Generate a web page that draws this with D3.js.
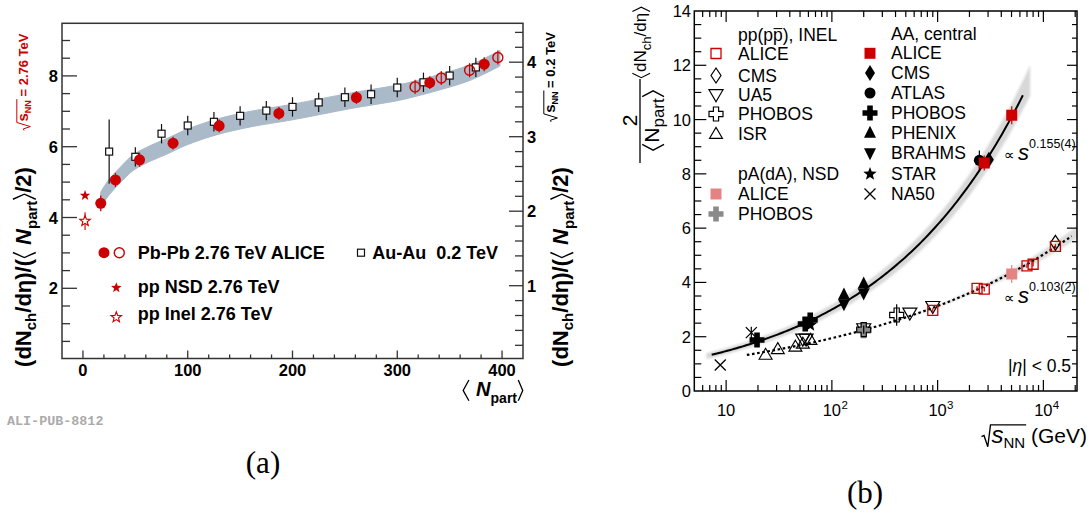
<!DOCTYPE html>
<html>
<head>
<meta charset="utf-8">
<script src="https://cdn.jsdelivr.net/npm/d3@7"></script>
<style>
  body { margin: 0; background: #fff; }
  svg { display: block; }
</style>
</head>
<body>
<svg id="fig" width="1091" height="515"></svg>
<script>
// ---------------- panel (a): dNch/deta per participant pair vs Npart ----------------
const pbNpart     = [17, 31, 54, 86, 130, 187, 261, 331, 383];
const pbVal       = [4.40, 5.06, 5.63, 6.10, 6.59, 6.94, 7.39, 7.81, 8.33];
const pbErr       = [0.22, 0.20, 0.20, 0.18, 0.18, 0.18, 0.18, 0.18, 0.20];
const pbOpenNpart = [317, 342, 369, 396];
const pbOpenVal   = [7.69, 7.94, 8.16, 8.52];
const pbOpenErr   = [0.20, 0.20, 0.20, 0.20];
const auNpart = [25, 50, 75, 100, 125, 150, 175, 200, 225, 250, 275, 300, 325, 350, 375];
const auVal   = [2.80, 2.73, 3.04, 3.15, 3.20, 3.28, 3.35, 3.40, 3.46, 3.53, 3.57, 3.66, 3.73, 3.82, 3.93];
const auErr   = [0.43, 0.13, 0.13, 0.13, 0.13, 0.13, 0.13, 0.13, 0.13, 0.13, 0.13, 0.13, 0.13, 0.13, 0.13];
const ppNpart   = [2];
const ppNsdVal  = [4.62];
const ppInelVal = [3.90];
const ppInelErr = [0.25];
// systematic band around the Pb-Pb points
const bandNpart = [17, 25, 35, 48, 65, 80, 100, 128, 160, 200, 256, 300, 316, 340, 370, 398];
const bandMid   = [4.50, 4.86, 5.18, 5.55, 5.82, 6.01, 6.28, 6.56, 6.78, 6.98, 7.30, 7.52, 7.63, 7.82, 8.10, 8.50];
const bandHalf  = 0.22;
const aLeftTicks  = [2, 4, 6, 8];
const aRightTicks = [1, 2, 3, 4];
const aXTicks     = [0, 100, 200, 300, 400];

// ---------------- panel (b): energy dependence ----------------
// pp(pbar p) INEL
const alicePPs = [900, 2360, 2760, 7000, 8000, 13000];
const alicePPy = [2.97, 3.78, 3.75, 4.61, 4.67, 5.33];
const cmsPPs = [13000];
const cmsPPy = [5.46];
const ua5PPs = [53, 57, 200, 546, 900];
const ua5PPy = [1.92, 1.92, 2.30, 2.88, 3.12];
const phobosPPs = [200, 410];
const phobosPPy = [2.26, 2.80];
const phobosPPe = [0.15, 0.40];
const isrPPs = [23.6, 30.8, 45.2, 53.2, 62.7];
const isrPPy = [1.33, 1.54, 1.63, 1.74, 1.88];
// pA(dA) NSD
const alicePAs = [5020];
const alicePAy = [4.31];
const alicePAe = [0.33];
const phobosDAs = [200];
const phobosDAy = [2.22];
const phobosDAe = [0.20];
// AA central
const aliceAAs = [2760, 5020];
const aliceAAy = [8.40, 10.16];
const aliceAAe = [0.28, 0.33];
const cmsAAs = [3050];
const cmsAAy = [8.52];
const atlasAAs = [2480];
const atlasAAy = [8.50];
const atlasAAe = [0.36];
const phobosAAs = [19.6, 56, 62.4];
const phobosAAy = [1.88, 2.47, 2.62];
const phenixAAs = [130, 200];
const phenixAAy = [3.55, 3.95];
const brahmsAAs = [130, 200];
const brahmsAAy = [3.20, 3.60];
const starAAs = [62.4];
const starAAy = [2.43];
const na50AAs = [8.8, 17.3];
const na50AAy = [0.96, 2.15];
const na50AAe = [0, 0.22];
// power-law fits in s (x axis is sqrt(s)), normalisation and drawn range
const fitAA = { exp: 0.155, norm: 0.720, from: 7.3, to: 6400, bandTo: 7500 };
const fitPP = { exp: 0.103, norm: 0.754, from: 15.7, to: 18500 };
const bYTicks = [0, 2, 4, 6, 8, 10, 12, 14];
const bXTicks = [10, 100, 1000, 10000];
const bXExp   = ['', '2', '3', '4'];

const legendLeftHead  = ['pp(p', 'p', '), INEL'];
const legendLeft      = ['ALICE', 'CMS', 'UA5', 'PHOBOS', 'ISR'];
const legendPAHead    = 'pA(dA), NSD';
const legendPA        = ['ALICE', 'PHOBOS'];
const legendRightHead = 'AA, central';
const legendRight     = ['ALICE', 'CMS', 'ATLAS', 'PHOBOS', 'PHENIX', 'BRAHMS', 'STAR', 'NA50'];

// ---------------------------------------------------------------------
const SANS = "'Liberation Sans', Arial, Helvetica, sans-serif";
const RED = '#cc0000', PINK = '#e58282', GRAY = '#8a8a8a', BAND = '#abbac8';
const svg = d3.select('#fig');

// text built from runs, with optional sub/superscripts, angle brackets, radicals, overlines
function rich(parent, x, y, runs, opt = {}) {
  const g = parent.append('g')
    .attr('transform', `translate(${x},${y})` + (opt.rotate ? ` rotate(${opt.rotate})` : ''));
  const base = { fs: opt.fs || 16, fw: opt.fw || 'normal', fill: opt.fill || '#000', ff: opt.ff || SANS };
  const items = [];
  runs.forEach(r => {
    const fs = r.fs || base.fs;
    if (r.br)  { items.push({ r, fs, w: r.w || fs * 0.36, kind: 'br' }); return; }
    if (r.rad) { items.push({ r, fs, w: r.w || fs * 0.55, kind: 'rad' }); return; }
    const el = g.append('text')
      .attr('y', r.dy || 0).attr('font-size', fs)
      .attr('font-weight', r.fw || base.fw).attr('font-style', r.fi ? 'italic' : 'normal')
      .attr('font-family', r.ff || base.ff).attr('fill', r.fill || base.fill)
      .style('white-space', 'pre').text(r.t);
    items.push({ r, fs, el, w: el.node().getComputedTextLength(), kind: 'text' });
  });
  const total = items.reduce((s, d) => s + d.w + (d.r.dx || 0), 0);
  let cx = opt.anchor === 'middle' ? -total / 2 : opt.anchor === 'end' ? -total : 0;
  items.forEach(d => {
    cx += d.r.dx || 0; d.x0 = cx;
    if (d.kind === 'text') d.el.attr('x', cx);
    cx += d.w;
  });
  const col = opt.fill || '#000';
  items.forEach((d, i) => {
    const fs = d.fs, sw = d.r.sw || Math.max(1, fs * 0.065), dy = d.r.dy || 0;
    if (d.kind === 'br') {
      const top = -fs * 0.80 + dy, bot = fs * 0.24 + dy, mid = (top + bot) / 2;
      const a = d.x0 + d.w * 0.18, b = d.x0 + d.w * 0.82;
      const p = d.r.br === '<' ? `M${b},${top}L${a},${mid}L${b},${bot}` : `M${a},${top}L${b},${mid}L${a},${bot}`;
      g.append('path').attr('d', p).attr('fill', 'none').attr('stroke', col).attr('stroke-width', sw);
    }
    if (d.kind === 'rad') {
      const last = items[i + d.r.n];
      const end = last.x0 + last.w + 1;
      const top = -fs * (d.r.top || 0.86), x0 = d.x0;
      const p = `M${x0},${-fs * 0.30}L${x0 + fs * 0.12},${-fs * 0.36}L${x0 + fs * 0.30},${fs * 0.18}L${x0 + d.w - 1},${top}L${end},${top}`;
      g.append('path').attr('d', p).attr('fill', 'none').attr('stroke', col).attr('stroke-width', sw);
    }
    if (d.kind === 'text' && d.r.over) {
      const yy = -fs * 0.68 + dy;
      g.append('line').attr('x1', d.x0 + 0.5).attr('x2', d.x0 + d.w - 0.5).attr('y1', yy).attr('y2', yy)
        .attr('stroke', col).attr('stroke-width', Math.max(1, fs * 0.06));
    }
  });
  return g;
}

// ---------------- draw panel (a) ----------------
const A = { l: 62, r: 523, t: 23.3, b: 358.5 };
const xA  = d3.scaleLinear([-20, 420], [A.l, A.r]);
const yA  = d3.scaleLinear([0.017, 9.486], [A.b, A.t]);   // sqrt(sNN) = 2.76 TeV
const yA2 = d3.scaleLinear([0.023, 4.522], [A.b, A.t]);   // sqrt(sNN) = 0.2 TeV
const ga = svg.append('g');

// band
const bandData = bandNpart.map((n, i) => ({ n, m: bandMid[i] }));
ga.append('path').datum(bandData)
  .attr('d', d3.area().curve(d3.curveCatmullRom)
    .x(d => xA(d.n)).y0(d => yA(d.m - bandHalf)).y1(d => yA(d.m + bandHalf)))
  .attr('fill', BAND).attr('stroke', BAND).attr('stroke-width', 1).attr('stroke-linejoin', 'round');

// Au-Au 0.2 TeV (right scale)
auNpart.forEach((n, i) => {
  ga.append('line').attr('x1', xA(n)).attr('x2', xA(n))
    .attr('y1', yA2(auVal[i] - auErr[i])).attr('y2', yA2(auVal[i] + auErr[i]))
    .attr('stroke', '#111').attr('stroke-width', 1.2);
  ga.append('rect').attr('x', xA(n) - 3.5).attr('y', yA2(auVal[i]) - 3.5).attr('width', 7).attr('height', 7)
    .attr('fill', '#fff').attr('stroke', '#111').attr('stroke-width', 1.2);
});

// Pb-Pb filled
pbNpart.forEach((n, i) => {
  ga.append('line').attr('x1', xA(n)).attr('x2', xA(n))
    .attr('y1', yA(pbVal[i] - pbErr[i])).attr('y2', yA(pbVal[i] + pbErr[i]))
    .attr('stroke', RED).attr('stroke-width', 1.3);
  ga.append('circle').attr('cx', xA(n)).attr('cy', yA(pbVal[i])).attr('r', 5.5).attr('fill', RED);
});
// Pb-Pb open
pbOpenNpart.forEach((n, i) => {
  ga.append('line').attr('x1', xA(n)).attr('x2', xA(n))
    .attr('y1', yA(pbOpenVal[i] - pbOpenErr[i])).attr('y2', yA(pbOpenVal[i] + pbOpenErr[i]))
    .attr('stroke', RED).attr('stroke-width', 1.2);
  ga.append('circle').attr('cx', xA(n)).attr('cy', yA(pbOpenVal[i])).attr('r', 5)
    .attr('fill', 'none').attr('stroke', RED).attr('stroke-width', 1.4);
});

function starPath(R) {
  const pts = [];
  for (let k = 0; k < 10; k++) {
    const rr = k % 2 ? R * 0.42 : R, ang = -Math.PI / 2 + k * Math.PI / 5;
    pts.push([rr * Math.cos(ang), rr * Math.sin(ang)]);
  }
  return 'M' + pts.map(p => p.join(',')).join('L') + 'Z';
}
// pp stars
ppNpart.forEach((n, i) => {
  ga.append('path').attr('d', starPath(5.5)).attr('transform', `translate(${xA(n)},${yA(ppNsdVal[i])})`).attr('fill', RED);
  ga.append('line').attr('x1', xA(n)).attr('x2', xA(n))
    .attr('y1', yA(ppInelVal[i] + ppInelErr[i])).attr('y2', yA(ppInelVal[i] - ppInelErr[i]))
    .attr('stroke', RED).attr('stroke-width', 1.1);
  ga.append('path').attr('d', starPath(5.5)).attr('transform', `translate(${xA(n)},${yA(ppInelVal[i])})`)
    .attr('fill', '#fff').attr('stroke', RED).attr('stroke-width', 1.1);
});

// frame and ticks
ga.append('rect').attr('x', A.l).attr('y', A.t).attr('width', A.r - A.l).attr('height', A.b - A.t)
  .attr('fill', 'none').attr('stroke', '#333').attr('stroke-width', 1.5);
for (let v = 0.5; v <= 9.01; v += 0.5) {
  const maj = Math.abs(v % 2) < 1e-6;
  ga.append('line').attr('x1', A.l).attr('x2', A.l + (maj ? 15 : 8)).attr('y1', yA(v)).attr('y2', yA(v))
    .attr('stroke', '#333').attr('stroke-width', 1.3);
}
for (let v = 0.2; v <= 4.41; v += 0.2) {
  const maj = Math.abs(v - Math.round(v)) < 1e-6;
  ga.append('line').attr('x1', A.r).attr('x2', A.r - (maj ? 14 : 8)).attr('y1', yA2(v)).attr('y2', yA2(v))
    .attr('stroke', '#333').attr('stroke-width', 1.3);
}
for (let v = 0; v <= 400; v += 20) {
  const maj = v % 100 === 0;
  ga.append('line').attr('x1', xA(v)).attr('x2', xA(v)).attr('y1', A.b).attr('y2', A.b - (maj ? 8 : 4))
    .attr('stroke', '#333').attr('stroke-width', 1.3);
}
aLeftTicks.forEach(v => ga.append('text').attr('x', 58).attr('y', yA(v) + 6).attr('text-anchor', 'end')
  .attr('font-family', SANS).attr('font-weight', 'bold').attr('font-size', 16.5).text(v));
aRightTicks.forEach(v => ga.append('text').attr('x', 527).attr('y', yA2(v) + 6).attr('text-anchor', 'start')
  .attr('font-family', SANS).attr('font-weight', 'bold').attr('font-size', 16.5).text(v));
aXTicks.forEach(v => ga.append('text').attr('x', xA(v)).attr('y', 376).attr('text-anchor', 'middle')
  .attr('font-family', SANS).attr('font-weight', 'bold').attr('font-size', 16.5).text(v));

// axis titles (a)
const yTitleRuns = [
  { t: '(dN' }, { t: 'ch', fs: 15, dy: 5 }, { t: '/d' }, { t: 'η' }, { t: ')/(' },
  { br: '<' }, { t: ' ' }, { t: 'N', fi: true }, { t: 'part', fs: 15, dy: 6 }, { br: '>' }, { t: '/2)' }
];
rich(ga, 30.5, 267, yTitleRuns, { rotate: -90, anchor: 'middle', fs: 22, fw: 'bold' });
rich(ga, 568, 267, yTitleRuns, { rotate: -90, anchor: 'middle', fs: 22, fw: 'bold' });
rich(ga, 28, 82, [{ rad: true, n: 2, w: 9 }, { t: 's', fs: 15 }, { t: 'NN', fs: 9, dy: 3 }, { t: ' = 2.76 TeV' }],
  { rotate: -90, anchor: 'middle', fs: 13, fw: 'bold', fill: RED });
rich(ga, 555, 77, [{ rad: true, n: 2, w: 9 }, { t: 's', fs: 15 }, { t: 'NN', fs: 9, dy: 3 }, { t: ' = 0.2 TeV' }],
  { rotate: -90, anchor: 'middle', fs: 13, fw: 'bold', fill: '#000' });
rich(ga, 524, 396, [{ br: '<', w: 9 }, { t: ' ' }, { t: 'N', fi: true }, { t: 'part', fs: 14, dy: 7 }, { br: '>', w: 7 }],
  { anchor: 'end', fs: 20, fw: 'bold' });

// legend (a)
ga.append('circle').attr('cx', 104).attr('cy', 252.7).attr('r', 5.5).attr('fill', RED);
ga.append('circle').attr('cx', 119.3).attr('cy', 252.7).attr('r', 5).attr('fill', 'none').attr('stroke', RED).attr('stroke-width', 1.4);
ga.append('path').attr('d', starPath(5.5)).attr('transform', 'translate(116.3,287.7)').attr('fill', RED);
ga.append('path').attr('d', starPath(5.5)).attr('transform', 'translate(116.3,317.3)').attr('fill', '#fff').attr('stroke', RED).attr('stroke-width', 1.1);
ga.append('rect').attr('x', 357.5).attr('y', 249.2).attr('width', 7).attr('height', 7).attr('fill', '#fff').attr('stroke', '#111').attr('stroke-width', 1.2);
[['Pb-Pb 2.76 TeV ALICE', 137.7, 258.8], ['pp NSD 2.76 TeV', 137.7, 292.7], ['pp Inel 2.76 TeV', 137.7, 320.2], ['Au-Au  0.2 TeV', 372.3, 258.8]]
  .forEach(([t, x, y]) => ga.append('text').attr('x', x).attr('y', y).attr('font-family', SANS)
    .attr('font-weight', 'bold').attr('font-size', 18).style('white-space', 'pre').text(t));
ga.append('text').attr('x', 7).attr('y', 425).attr('font-family', "'Liberation Mono', 'DejaVu Sans Mono', monospace")
  .attr('font-weight', 'bold').attr('font-size', 13.4).attr('fill', '#ababab').text('ALI-PUB-8812');
svg.append('text').attr('x', 263).attr('y', 473).attr('text-anchor', 'middle')
  .attr('font-family', "'Liberation Serif', 'DejaVu Serif', serif").attr('font-size', 31).text('(a)');

// ---------------- draw panel (b) ----------------
const B = { l: 694.3, r: 1077, t: 11, b: 391 };
const xB = d3.scaleLog([5, 20800], [B.l, B.r]);
const yB = d3.scaleLinear([0, 14], [B.b, B.t]);
const gb = svg.append('g');
const defs = svg.append('defs');
defs.append('filter').attr('id', 'soft').append('feGaussianBlur').attr('stdDeviation', 1.3);
defs.append('clipPath').attr('id', 'clipB').append('rect')
  .attr('x', B.l).attr('y', B.t).attr('width', B.r - B.l).attr('height', B.b - B.t);

const fitVal = (f, rs) => f.norm * Math.pow(rs * rs, f.exp);
const logRange = (a, b, n) => d3.range(n + 1).map(k => Math.exp(Math.log(a) + (Math.log(b) - Math.log(a)) * k / n));
const gfit = gb.append('g').attr('clip-path', 'url(#clipB)');
// uncertainty bands of the fits
gfit.append('path').datum(logRange(6.5, fitAA.bandTo, 120))
  .attr('d', d3.area().x(d => xB(d)).y0(d => yB(fitVal(fitAA, d) * 0.955 - 0.05)).y1(d => yB(fitVal(fitAA, d) * 1.045 + 0.05)))
  .attr('fill', '#d8d8d8').attr('filter', 'url(#soft)');
gfit.append('path').datum(logRange(300, 21000, 80))
  .attr('d', d3.area().x(d => xB(d))
    .y0(d => { const t = Math.log(d / 300) / Math.log(70); return yB(fitVal(fitPP, d) * (1 - 0.04 * t)); })
    .y1(d => { const t = Math.log(d / 300) / Math.log(70); return yB(fitVal(fitPP, d) * (1 + 0.04 * t)); }))
  .attr('fill', '#dcdcdc').attr('filter', 'url(#soft)');
gfit.append('path').datum(logRange(fitAA.from, fitAA.to, 150))
  .attr('d', d3.line().x(d => xB(d)).y(d => yB(fitVal(fitAA, d))))
  .attr('fill', 'none').attr('stroke', '#000').attr('stroke-width', 2);
gfit.append('path').datum(logRange(fitPP.from, fitPP.to, 150))
  .attr('d', d3.line().x(d => xB(d)).y(d => yB(fitVal(fitPP, d))))
  .attr('fill', 'none').attr('stroke', '#000').attr('stroke-width', 2.2).attr('stroke-dasharray', '2.6,2.6');

// marker shapes
const shape = {
  square: s => `M${-s / 2},${-s / 2}h${s}v${s}h${-s}Z`,
  diamond: (w, h) => `M0,${-h / 2}L${w / 2},0L0,${h / 2}L${-w / 2},0Z`,
  triUp: (w, h) => `M0,${-h * 0.6}L${w / 2},${h * 0.4}L${-w / 2},${h * 0.4}Z`,
  triDown: (w, h) => `M0,${h * 0.6}L${w / 2},${-h * 0.4}L${-w / 2},${-h * 0.4}Z`,
  cross: (L, t) => `M${-t},${-L}h${2 * t}v${L - t}h${L - t}v${2 * t}h${-(L - t)}v${L - t}h${-2 * t}v${-(L - t)}h${-(L - t)}v${-2 * t}h${L - t}Z`,
  circle: r => `M${-r},0a${r},${r} 0 1,0 ${2 * r},0a${r},${r} 0 1,0 ${-2 * r},0Z`,
  xmark: a => `M${-a},${-a}L${a},${a}M${-a},${a}L${a},${-a}`
};
const M = {
  aliceOpen:  { d: shape.square(10), fill: 'none', stroke: RED, sw: 1.3 },
  cmsOpen:    { d: shape.diamond(10, 15), fill: 'none', stroke: '#000', sw: 1.2 },
  ua5:        { d: shape.triDown(14, 12), fill: 'none', stroke: '#000', sw: 1.2 },
  phobosOpen: { d: shape.cross(7, 2.6), fill: 'none', stroke: '#000', sw: 1.2 },
  isr:        { d: shape.triUp(13, 11), fill: 'none', stroke: '#000', sw: 1.1 },
  alicePA:    { d: shape.square(11), fill: PINK, stroke: 'none', sw: 0 },
  phobosDA:   { d: shape.cross(7.5, 2.8), fill: GRAY, stroke: 'none', sw: 0 },
  aliceAA:    { d: shape.square(11), fill: RED, stroke: 'none', sw: 0 },
  cmsAA:      { d: shape.diamond(10, 16), fill: '#000', stroke: 'none', sw: 0 },
  atlas:      { d: shape.circle(5.5), fill: '#000', stroke: 'none', sw: 0 },
  phobosAA:   { d: shape.cross(7.5, 2.8), fill: '#000', stroke: 'none', sw: 0 },
  phenix:     { d: shape.triUp(12, 12), fill: '#000', stroke: 'none', sw: 0 },
  brahms:     { d: shape.triDown(12, 12), fill: '#000', stroke: 'none', sw: 0 },
  star:       { d: starPath(7), fill: '#000', stroke: 'none', sw: 0 },
  na50:       { d: shape.xmark(5.5), fill: 'none', stroke: '#000', sw: 1.3 }
};
function marker(g, m, x, y) {
  g.append('path').attr('d', m.d).attr('transform', `translate(${x},${y})`)
    .attr('fill', m.fill).attr('stroke', m.stroke).attr('stroke-width', m.sw);
}
function series(m, xs, ys, errs, col) {
  xs.forEach((s, i) => {
    if (errs && errs[i] > 0) {
      gb.append('line').attr('x1', xB(s)).attr('x2', xB(s))
        .attr('y1', yB(ys[i] - errs[i])).attr('y2', yB(ys[i] + errs[i]))
        .attr('stroke', col || '#000').attr('stroke-width', 1.2);
    }
    marker(gb, m, xB(s), yB(ys[i]));
  });
}
series(M.na50, na50AAs, na50AAy, na50AAe);
series(M.isr, isrPPs, isrPPy);
series(M.ua5, ua5PPs, ua5PPy);
series(M.phobosDA, phobosDAs, phobosDAy, phobosDAe, GRAY);
series(M.phobosOpen, phobosPPs, phobosPPy, phobosPPe);
series(M.phobosAA, phobosAAs, phobosAAy);
series(M.star, starAAs, starAAy);
series(M.brahms, brahmsAAs, brahmsAAy);
series(M.phenix, phenixAAs, phenixAAy);
series(M.atlas, atlasAAs, atlasAAy, atlasAAe);
series(M.cmsAA, cmsAAs, cmsAAy);
series(M.aliceAA, aliceAAs, aliceAAy, aliceAAe, RED);
series(M.cmsOpen, cmsPPs, cmsPPy);
series(M.alicePA, alicePAs, alicePAy, alicePAe, PINK);
series(M.aliceOpen, alicePPs, alicePPy, alicePPs.map(() => 0.08), RED);

// frame & ticks (b)
gb.append('rect').attr('x', B.l).attr('y', B.t).attr('width', B.r - B.l).attr('height', B.b - B.t)
  .attr('fill', 'none').attr('stroke', '#000').attr('stroke-width', 1.5);
for (let e = 0; e <= 4; e++) for (let m = 1; m <= 9; m++) {
  const v = m * Math.pow(10, e);
  if (v <= 5 || v >= 20800) continue;
  const len = m === 1 ? 11 : 6, x = xB(v);
  gb.append('line').attr('x1', x).attr('x2', x).attr('y1', B.b).attr('y2', B.b - len).attr('stroke', '#000').attr('stroke-width', 1.2);
  gb.append('line').attr('x1', x).attr('x2', x).attr('y1', B.t).attr('y2', B.t + len).attr('stroke', '#000').attr('stroke-width', 1.2);
}
for (let v = 0.5; v < 14; v += 0.5) {
  const maj = Math.abs(v % 2) < 1e-6, y = yB(v);
  gb.append('line').attr('x1', B.l).attr('x2', B.l + (maj ? 12 : 7)).attr('y1', y).attr('y2', y).attr('stroke', '#000').attr('stroke-width', 1.2);
  gb.append('line').attr('x1', B.r).attr('x2', B.r - (maj ? 10 : 5)).attr('y1', y).attr('y2', y).attr('stroke', '#000').attr('stroke-width', 1.2);
}
bYTicks.forEach(v => gb.append('text').attr('x', 691).attr('y', yB(v) + 6).attr('text-anchor', 'end')
  .attr('font-family', SANS).attr('font-size', 16.5).text(v));
bXTicks.forEach((v, i) => {
  gb.append('text').attr('x', xB(v)).attr('y', 416).attr('text-anchor', 'middle')
    .attr('font-family', SANS).attr('font-size', 16.5).text('10');
  if (bXExp[i]) gb.append('text').attr('x', xB(v) + 9.5).attr('y', 409).attr('font-family', SANS).attr('font-size', 11.5).text(bXExp[i]);
});

// axis titles (b)
const fy = svg.append('g').attr('transform', 'translate(640,85) rotate(-90)');
fy.append('text').attr('x', -35.5).attr('y', -3).attr('text-anchor', 'middle').attr('font-family', SANS).attr('font-size', 21).text('2');
fy.append('line').attr('x1', -78).attr('x2', 6).attr('y1', 0).attr('y2', 0).attr('stroke', '#000').attr('stroke-width', 1.3);
rich(fy, -35.5, 19, [{ br: '<', w: 9 }, { t: 'N', fs: 21 }, { t: 'part', fs: 17, dy: 5 }, { br: '>', w: 9 }], { anchor: 'middle', fs: 21 });
rich(fy, 6, 6, [{ br: '<', w: 7 }, { t: 'dN' }, { t: 'ch', fs: 13, dy: 5 }, { t: '/d' }, { t: 'η' }, { br: '>', w: 7 }], { fs: 17 });

rich(gb, 1087, 443, [{ rad: true, n: 2, w: 10 }, { t: 's', fi: true, fs: 24 }, { t: 'NN', fs: 15, dy: 5 }, { t: ' (GeV)' }],
  { anchor: 'end', fs: 21 });

// fit exponents and eta range
rich(gb, 1004, 160, [{ t: '∝', fs: 15, ff: "'DejaVu Sans', sans-serif" }, { t: ' ', fs: 12 }, { t: 's', fi: true, fs: 22 }, { t: '0.155(4)', fs: 12.5, dy: -12 }], { fs: 16 });
rich(gb, 1004, 303, [{ t: '∝', fs: 15, ff: "'DejaVu Sans', sans-serif" }, { t: ' ', fs: 12 }, { t: 's', fi: true, fs: 22 }, { t: '0.103(2)', fs: 12.5, dy: -12 }], { fs: 16 });
rich(gb, 1008, 372, [{ t: '|' }, { t: 'η', fi: true }, { t: '| < 0.5' }], { fs: 17.5 });

// legend (b)
const LX1 = 716, TX1 = 738, LX2 = 870, TX2 = 891;
rich(gb, TX1, 40.5, [{ t: legendLeftHead[0] }, { t: legendLeftHead[1], over: true }, { t: legendLeftHead[2] }], { fs: 17.5 });
const leftMarks = [M.aliceOpen, M.cmsOpen, M.ua5, M.phobosOpen, M.isr];
const leftY = [59.5, 81.5, 100.5, 120, 140];
legendLeft.forEach((t, i) => {
  marker(gb, leftMarks[i], LX1, leftY[i] - 6);
  gb.append('text').attr('x', TX1).attr('y', leftY[i]).attr('font-family', SANS).attr('font-size', 17.5).text(t);
});
gb.append('text').attr('x', TX1).attr('y', 180).attr('font-family', SANS).attr('font-size', 17.5).text(legendPAHead);
const paMarks = [M.alicePA, M.phobosDA];
const paY = [200, 220];
legendPA.forEach((t, i) => {
  marker(gb, paMarks[i], LX1, paY[i] - 6);
  gb.append('text').attr('x', TX1).attr('y', paY[i]).attr('font-family', SANS).attr('font-size', 17.5).text(t);
});
gb.append('text').attr('x', TX2).attr('y', 40).attr('font-family', SANS).attr('font-size', 17.5).text(legendRightHead);
const rightMarks = [M.aliceAA, M.cmsAA, M.atlas, M.phobosAA, M.phenix, M.brahms, M.star, M.na50];
const rightY = [59.3, 79, 99, 119, 139, 159, 180, 200];
legendRight.forEach((t, i) => {
  marker(gb, rightMarks[i], LX2, rightY[i] - 6);
  gb.append('text').attr('x', TX2).attr('y', rightY[i]).attr('font-family', SANS).attr('font-size', 17.5).text(t);
});
svg.append('text').attr('x', 865).attr('y', 503).attr('text-anchor', 'middle')
  .attr('font-family', "'Liberation Serif', 'DejaVu Serif', serif").attr('font-size', 31).text('(b)');
</script>
</body>
</html>
